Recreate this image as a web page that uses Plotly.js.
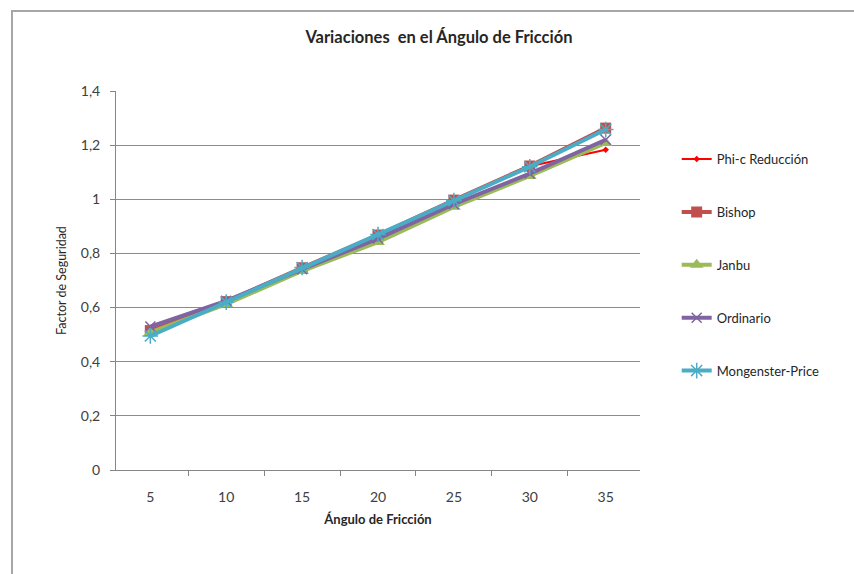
<!DOCTYPE html>
<html>
<head>
<meta charset="utf-8">
<script src="https://cdn.plot.ly/plotly-3.0.1.min.js"></script>
<style>
  html, body { margin: 0; padding: 0; background: #fff; }
  #wrap { position: relative; width: 854px; height: 574px; }
  #chart { width: 854px; height: 574px; }
  #frame { position: absolute; left: 11px; top: 10px; right: 0; bottom: 0;
           border-top: 2px solid #a6a6a6; border-left: 2px solid #a6a6a6; pointer-events: none; }
</style>
</head>
<body>
<div id="wrap">
  <div id="chart"></div>
  <div id="frame"></div>
</div>
<script>
// Friction angle (degrees) on the category axis
const angulos = ['5', '10', '15', '20', '25', '30', '35'];

// Factor of safety by method
const phiC        = [0.515, 0.620, 0.745, 0.868, 0.995, 1.122, 1.183];
const bishop      = [0.515, 0.622, 0.747, 0.868, 0.997, 1.123, 1.263];
const janbu       = [0.508, 0.613, 0.735, 0.842, 0.972, 1.086, 1.208];
const ordinario   = [0.530, 0.625, 0.742, 0.855, 0.982, 1.095, 1.220];
const mongenster  = [0.495, 0.620, 0.748, 0.870, 0.995, 1.120, 1.258];

const seriesNames = ['Phi-c Reducción', 'Bishop', 'Janbu', 'Ordinario', 'Mongenster-Price'];
const yTicks = [0, 0.2, 0.4, 0.6, 0.8, 1, 1.2, 1.4];

const fontFam = 'Lato, "Open Sans", sans-serif';

function serie(name, y, color, width, symbol, size, group) {
  return {
    type: 'scatter', mode: 'lines+markers', name: name,
    x: angulos, y: y, legendgroup: group,
    line: { color: color, width: width },
    marker: { symbol: symbol, size: size, color: color,
              line: { color: color, width: symbol.indexOf('open') >= 0 || symbol.indexOf('thin') >= 0 ? 1.5 : 0 } }
  };
}

const data = [
  serie(seriesNames[0], phiC,       '#FF0000', 2,   'diamond',        5,  'a'),
  serie(seriesNames[1], bishop,     '#C0504D', 4,   'square',         11, 'b'),
  serie(seriesNames[2], janbu,      '#9BBB59', 4,   'triangle-up',    12, 'c'),
  serie(seriesNames[3], ordinario,  '#8064A2', 4,   'x-thin-open',    10, 'd'),
  serie(seriesNames[4], mongenster, '#4BACC6', 4,   'asterisk-open',  13, 'e')
];

const layout = {
  width: 854, height: 574,
  margin: { l: 116, r: 214, t: 91, b: 104 },
  paper_bgcolor: '#ffffff', plot_bgcolor: '#ffffff',
  separators: ',.',
  font: { family: fontFam, size: 12, color: '#404040' },
  title: {
    text: '<b>Variaciones  en el Ángulo de Fricción</b>',
    font: { family: fontFam, size: 16.5, color: '#262626' },
    x: 0.514, xref: 'container', xanchor: 'center',
    y: 1 - 37 / 574, yref: 'container', yanchor: 'middle'
  },
  xaxis: {
    type: 'category', categoryorder: 'array', categoryarray: angulos,
    tickson: 'boundaries', ticks: 'outside', ticklen: 5, tickcolor: '#868686',
    ticklabelstandoff: 14,
    showline: true, linecolor: '#868686', linewidth: 1,
    showgrid: false, zeroline: false,
    tickfont: { family: fontFam, size: 14, color: '#404040' },
    title: { text: '<b>Ángulo de Fricción</b>', standoff: 11,
             font: { family: fontFam, size: 13, color: '#262626' } }
  },
  yaxis: {
    range: [0, 1.4], tickvals: yTicks, ticks: 'outside', ticklen: 5, tickcolor: '#868686',
    ticklabelstandoff: 7,
    showline: true, linecolor: '#868686', linewidth: 1,
    showgrid: true, gridcolor: '#8c8c8c', gridwidth: 1, zeroline: false,
    tickfont: { family: fontFam, size: 14, color: '#404040' },
    title: { text: 'Factor de Seguridad', standoff: 11,
             font: { family: fontFam, size: 12.5, color: '#262626' } }
  },
  legend: {
    x: 1.07, xanchor: 'left', y: 0.86, yanchor: 'top',
    traceorder: 'grouped', tracegroupgap: 33,
    font: { family: fontFam, size: 13, color: '#262626' },
    bgcolor: 'rgba(0,0,0,0)', itemwidth: 30
  },
  showlegend: true
};

Plotly.newPlot('chart', data, layout, { displayModeBar: false, staticPlot: true });
</script>
</body>
</html>
